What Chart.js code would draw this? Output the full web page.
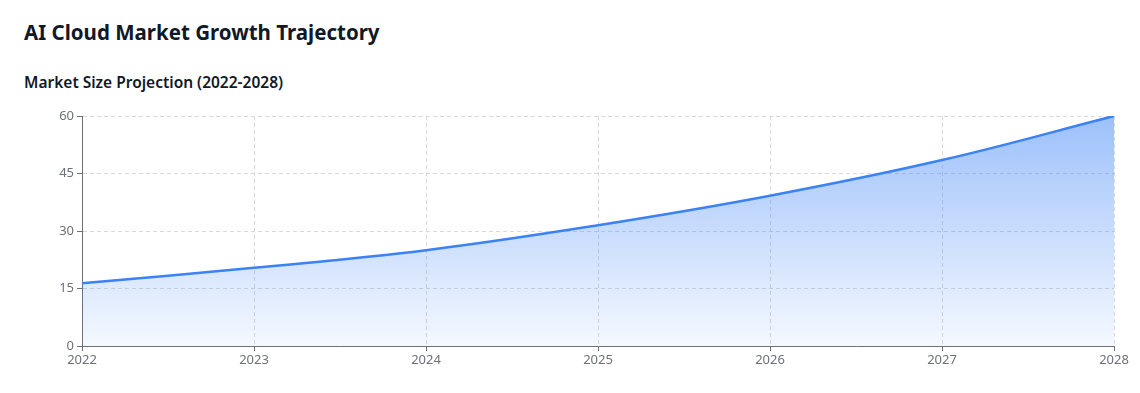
<!DOCTYPE html>
<html>
<head>
<meta charset="utf-8">
<script src="https://cdn.jsdelivr.net/npm/chart.js@4.4.0/dist/chart.umd.min.js"></script>
<style>
    body {
        margin: 0;
        background: #fff;
        font-family: "Noto Sans", sans-serif;
        color: #111827;
    }
    h1 {
        position: absolute;
        left: 24px;
        top: 18px;
        margin: 0;
        font-size: 20.5px;
        font-weight: 700;
    }
    h3 {
        position: absolute;
        left: 24px;
        top: 71px;
        margin: 0;
        font-size: 15.5px;
        font-weight: 600;
    }
    #chartBox {
        position: absolute;
        left: 0;
        top: 100px;
        width: 1140px;
        height: 293px;
    }
</style>
</head>
<body>
<h1>AI Cloud Market Growth Trajectory</h1>
<h3>Market Size Projection (2022-2028)</h3>
<div id="chartBox"><canvas id="growthChart"></canvas></div>
<script>
const years = ['2022', '2023', '2024', '2025', '2026', '2027', '2028'];
const marketSize = [16.4, 20.4, 25.0, 31.5, 39.2, 48.5, 60.0];
const yTicks = [0, 15, 30, 45, 60];

const axisColor = '#6e7079';
const gridColor = '#d9d9d9';

const ctx = document.getElementById('growthChart').getContext('2d');

new Chart(ctx, {
    type: 'line',
    data: {
        labels: years,
        datasets: [{
            label: 'Market Size',
            data: marketSize,
            borderColor: '#3b82f6',
            borderWidth: 2.5,
            pointRadius: 0,
            tension: 0.4,
            fill: 'origin',
            backgroundColor: (context) => {
                const area = context.chart.chartArea;
                if (!area) return 'rgba(59,130,246,0.3)';
                const g = context.chart.ctx.createLinearGradient(0, area.top, 0, area.bottom);
                g.addColorStop(0, 'rgba(59,130,246,0.5)');
                g.addColorStop(1, 'rgba(59,130,246,0.05)');
                return g;
            }
        }]
    },
    options: {
        responsive: true,
        maintainAspectRatio: false,
        animation: false,
        layout: { padding: { left: 0, right: 26, top: 16, bottom: 0 } },
        plugins: {
            legend: { display: false },
            tooltip: { enabled: false }
        },
        scales: {
            x: {
                offset: false,
                grid: { color: gridColor, tickLength: 5, tickColor: axisColor, tickBorderDash: [] },
                border: { display: true, color: axisColor, width: 1, dash: [4, 3] },
                ticks: { color: axisColor, padding: 1, maxRotation: 0, font: { family: 'Noto Sans', size: 13 } },
                afterFit: (scale) => { scale.height = 47; }
            },
            y: {
                min: 0,
                max: 60,
                afterBuildTicks: (scale) => { scale.ticks = yTicks.map(v => ({ value: v })); },
                grid: { color: gridColor, tickLength: 5, tickColor: axisColor, tickBorderDash: [] },
                border: { display: true, color: axisColor, width: 1, dash: [4, 3] },
                ticks: { color: axisColor, padding: 3, font: { family: 'Noto Sans', size: 13 } },
                afterFit: (scale) => { scale.width = 82; }
            }
        }
    }
});
</script>
</body>
</html>
